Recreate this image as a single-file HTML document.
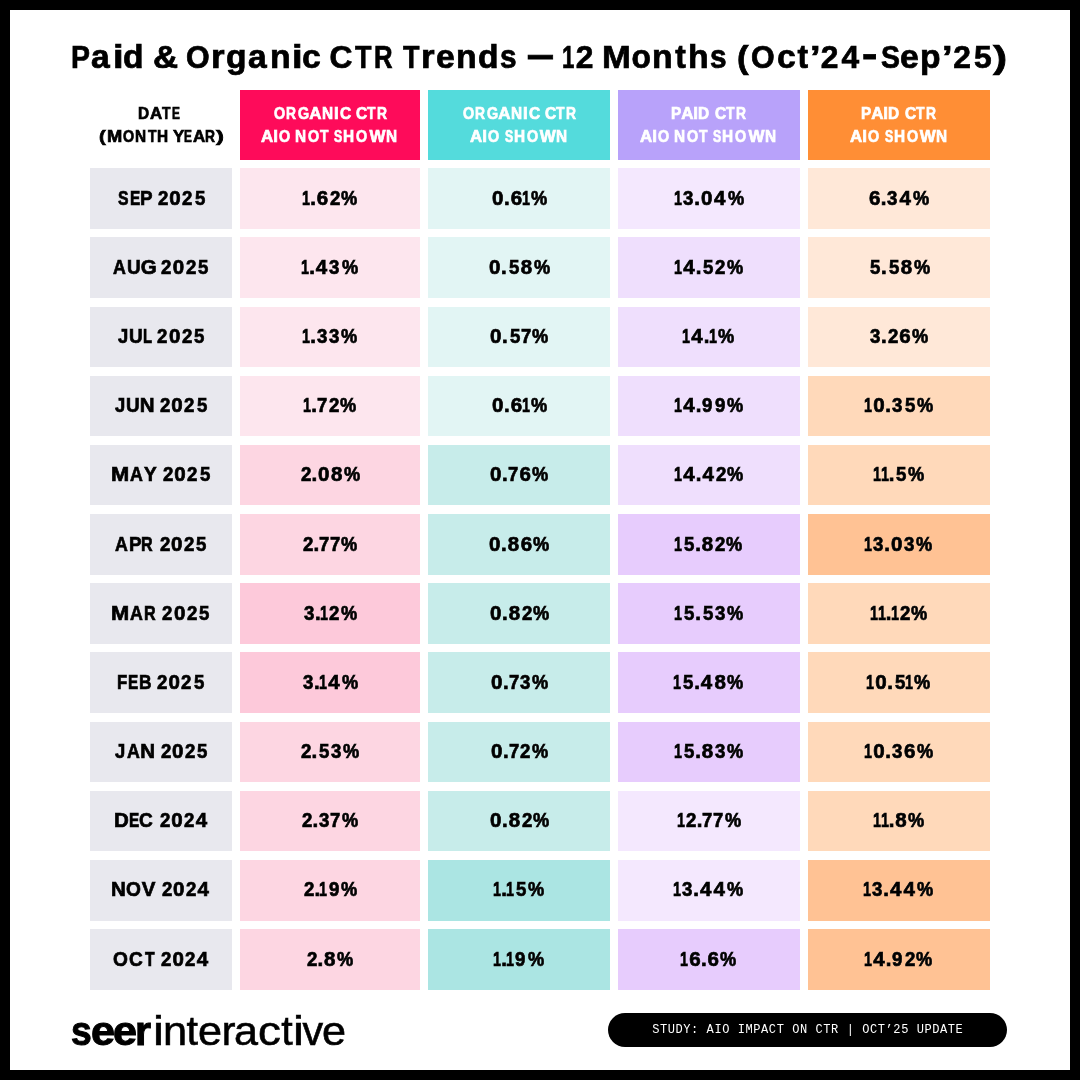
<!DOCTYPE html><html><head><meta charset="utf-8"><title>Paid &amp; Organic CTR Trends</title><style>
html,body{margin:0;padding:0}
body{width:1080px;height:1080px;background:#000;position:relative;overflow:hidden;font-family:"Liberation Sans",sans-serif}
.pg{position:absolute;left:10px;top:10px;width:1060px;height:1060px;background:#fff}
.b{position:absolute}
.ln{position:absolute;white-space:pre;will-change:transform}
.ln span{display:inline-block;transform-origin:0 0}
.ce,.tt,.dh{text-shadow:0 0 1.2px rgba(255,255,255,0.6)}
.tt span{transform-origin:0 31.01px}
.tt{font-weight:700;font-size:31.77px;line-height:40px;color:#000;-webkit-text-stroke:0.7px currentColor}
.hd{font-weight:700;font-size:16.91px;line-height:23px;color:#fff;-webkit-text-stroke:0.7px currentColor}
.ce{font-weight:700;font-size:20.5px;line-height:24px;color:#000;-webkit-text-stroke:0.7px currentColor}
.lb{font-weight:700;font-size:41.19px;line-height:50px;color:#000;-webkit-text-stroke:1.0px currentColor}
.lr{font-weight:400;font-size:41.19px;line-height:50px;color:#000;-webkit-text-stroke:0.6px currentColor}
.pill{position:absolute;left:608px;top:1013px;width:399px;height:34px;border-radius:17px;background:#000;color:#fff;font-family:"Liberation Mono",monospace;font-size:12px;letter-spacing:0.58px;text-indent:0.58px;line-height:34.5px;text-align:center;white-space:nowrap;will-change:transform}
</style></head><body><div class="pg"></div>
<div class="b" style="left:240px;top:90px;width:180px;height:70px;background:#fe0b5a"></div>
<div class="b" style="left:428px;top:90px;width:182px;height:70px;background:#54dbdc"></div>
<div class="b" style="left:618px;top:90px;width:182px;height:70px;background:#b8a2fa"></div>
<div class="b" style="left:808px;top:90px;width:182px;height:70px;background:#ff8e35"></div>
<div class="b" style="left:90px;top:168.30px;width:142px;height:60.5px;background:#e8e8ee"></div>
<div class="b" style="left:240px;top:168.30px;width:180px;height:60.5px;background:#fde6ee"></div>
<div class="b" style="left:428px;top:168.30px;width:182px;height:60.5px;background:#e2f5f4"></div>
<div class="b" style="left:618px;top:168.30px;width:182px;height:60.5px;background:#f4e8fe"></div>
<div class="b" style="left:808px;top:168.30px;width:182px;height:60.5px;background:#ffe8d8"></div>
<div class="b" style="left:90px;top:237.47px;width:142px;height:60.5px;background:#e8e8ee"></div>
<div class="b" style="left:240px;top:237.47px;width:180px;height:60.5px;background:#fde6ee"></div>
<div class="b" style="left:428px;top:237.47px;width:182px;height:60.5px;background:#e2f5f4"></div>
<div class="b" style="left:618px;top:237.47px;width:182px;height:60.5px;background:#efdffd"></div>
<div class="b" style="left:808px;top:237.47px;width:182px;height:60.5px;background:#ffe8d8"></div>
<div class="b" style="left:90px;top:306.64px;width:142px;height:60.5px;background:#e8e8ee"></div>
<div class="b" style="left:240px;top:306.64px;width:180px;height:60.5px;background:#fde6ee"></div>
<div class="b" style="left:428px;top:306.64px;width:182px;height:60.5px;background:#e2f5f4"></div>
<div class="b" style="left:618px;top:306.64px;width:182px;height:60.5px;background:#efdffd"></div>
<div class="b" style="left:808px;top:306.64px;width:182px;height:60.5px;background:#ffe8d8"></div>
<div class="b" style="left:90px;top:375.81px;width:142px;height:60.5px;background:#e8e8ee"></div>
<div class="b" style="left:240px;top:375.81px;width:180px;height:60.5px;background:#fde6ee"></div>
<div class="b" style="left:428px;top:375.81px;width:182px;height:60.5px;background:#e2f5f4"></div>
<div class="b" style="left:618px;top:375.81px;width:182px;height:60.5px;background:#efdffd"></div>
<div class="b" style="left:808px;top:375.81px;width:182px;height:60.5px;background:#ffd9ba"></div>
<div class="b" style="left:90px;top:444.98px;width:142px;height:60.5px;background:#e8e8ee"></div>
<div class="b" style="left:240px;top:444.98px;width:180px;height:60.5px;background:#fdd6e2"></div>
<div class="b" style="left:428px;top:444.98px;width:182px;height:60.5px;background:#c7ecea"></div>
<div class="b" style="left:618px;top:444.98px;width:182px;height:60.5px;background:#efdffd"></div>
<div class="b" style="left:808px;top:444.98px;width:182px;height:60.5px;background:#ffd9ba"></div>
<div class="b" style="left:90px;top:514.15px;width:142px;height:60.5px;background:#e8e8ee"></div>
<div class="b" style="left:240px;top:514.15px;width:180px;height:60.5px;background:#fdd6e2"></div>
<div class="b" style="left:428px;top:514.15px;width:182px;height:60.5px;background:#c7ecea"></div>
<div class="b" style="left:618px;top:514.15px;width:182px;height:60.5px;background:#e7ccfd"></div>
<div class="b" style="left:808px;top:514.15px;width:182px;height:60.5px;background:#ffc294"></div>
<div class="b" style="left:90px;top:583.32px;width:142px;height:60.5px;background:#e8e8ee"></div>
<div class="b" style="left:240px;top:583.32px;width:180px;height:60.5px;background:#fdc9da"></div>
<div class="b" style="left:428px;top:583.32px;width:182px;height:60.5px;background:#c7ecea"></div>
<div class="b" style="left:618px;top:583.32px;width:182px;height:60.5px;background:#e7ccfd"></div>
<div class="b" style="left:808px;top:583.32px;width:182px;height:60.5px;background:#ffd9ba"></div>
<div class="b" style="left:90px;top:652.49px;width:142px;height:60.5px;background:#e8e8ee"></div>
<div class="b" style="left:240px;top:652.49px;width:180px;height:60.5px;background:#fdc9da"></div>
<div class="b" style="left:428px;top:652.49px;width:182px;height:60.5px;background:#c7ecea"></div>
<div class="b" style="left:618px;top:652.49px;width:182px;height:60.5px;background:#e7ccfd"></div>
<div class="b" style="left:808px;top:652.49px;width:182px;height:60.5px;background:#ffd9ba"></div>
<div class="b" style="left:90px;top:721.66px;width:142px;height:60.5px;background:#e8e8ee"></div>
<div class="b" style="left:240px;top:721.66px;width:180px;height:60.5px;background:#fdd6e2"></div>
<div class="b" style="left:428px;top:721.66px;width:182px;height:60.5px;background:#c7ecea"></div>
<div class="b" style="left:618px;top:721.66px;width:182px;height:60.5px;background:#e7ccfd"></div>
<div class="b" style="left:808px;top:721.66px;width:182px;height:60.5px;background:#ffd9ba"></div>
<div class="b" style="left:90px;top:790.83px;width:142px;height:60.5px;background:#e8e8ee"></div>
<div class="b" style="left:240px;top:790.83px;width:180px;height:60.5px;background:#fdd6e2"></div>
<div class="b" style="left:428px;top:790.83px;width:182px;height:60.5px;background:#c7ecea"></div>
<div class="b" style="left:618px;top:790.83px;width:182px;height:60.5px;background:#f4e8fe"></div>
<div class="b" style="left:808px;top:790.83px;width:182px;height:60.5px;background:#ffd9ba"></div>
<div class="b" style="left:90px;top:860.00px;width:142px;height:60.5px;background:#e8e8ee"></div>
<div class="b" style="left:240px;top:860.00px;width:180px;height:60.5px;background:#fdd6e2"></div>
<div class="b" style="left:428px;top:860.00px;width:182px;height:60.5px;background:#abe5e3"></div>
<div class="b" style="left:618px;top:860.00px;width:182px;height:60.5px;background:#f4e8fe"></div>
<div class="b" style="left:808px;top:860.00px;width:182px;height:60.5px;background:#ffc294"></div>
<div class="b" style="left:90px;top:929.17px;width:142px;height:60.5px;background:#e8e8ee"></div>
<div class="b" style="left:240px;top:929.17px;width:180px;height:60.5px;background:#fdd6e2"></div>
<div class="b" style="left:428px;top:929.17px;width:182px;height:60.5px;background:#abe5e3"></div>
<div class="b" style="left:618px;top:929.17px;width:182px;height:60.5px;background:#e7ccfd"></div>
<div class="b" style="left:808px;top:929.17px;width:182px;height:60.5px;background:#ffc294"></div>
<div class="ln tt" style="left:70.94px;top:37.00px"><span style="width:20.09px;transform:scaleX(0.8947)">P</span><span style="width:21.72px;transform:scale(1.0588,1.0306)">a</span><span style="width:10.50px;transform:scale(1.2000,1.0306)">i</span><span style="width:18.00px;transform:scale(1.0588,1.0306)">d</span> <span style="margin-left:2.78px;width:22.00px;transform:scaleX(1.0952)">&amp;</span> <span style="margin-left:2.64px;width:25.13px;transform:scaleX(0.9565)">O</span><span style="width:14.42px;transform:scale(1.1000,1.0306)">r</span><span style="width:22.06px;transform:scale(1.0588,1.0306)">g</span><span style="width:22.00px;transform:scale(1.0588,1.0306)">a</span><span style="width:21.63px;transform:scale(1.0625,1.0306)">n</span><span style="width:10.49px;transform:scale(1.2000,1.0306)">i</span><span style="width:17.00px;transform:scale(1.0625,1.0306)">c</span> <span style="margin-left:1.58px;width:25.62px">C</span><span style="width:18.71px;transform:scaleX(0.8500)">T</span><span style="width:23.00px;transform:scaleX(0.8095)">R</span> <span style="margin-left:-2.41px;width:18.13px;transform:scaleX(0.8500)">T</span><span style="width:14.42px;transform:scale(1.1000,1.0306)">r</span><span style="width:20.05px;transform:scale(1.0625,1.0306)">e</span><span style="width:21.97px;transform:scale(1.0625,1.0306)">n</span><span style="width:22.18px;transform:scale(1.0588,1.0306)">d</span><span style="width:17.00px;transform:scale(0.9375,1.0306)">s</span> <span style="margin-left:2.00px;width:32.00px;transform-origin:0 0;transform:translateY(-8.00px) scale(0.7812,1.2500)">—</span> <span style="margin-left:-6.55px;width:13.81px;transform:scaleX(0.7000)">1</span><span style="width:17.00px">2</span> <span style="margin-left:0.28px;width:29.64px;transform:scaleX(1.0870)">M</span><span style="width:20.62px;transform:scale(1.0000,1.0306)">o</span><span style="width:23.03px;transform:scale(1.0625,1.0306)">n</span><span style="width:12.47px;transform:scale(1.0000,1.0306)">t</span><span style="width:22.09px;transform:scale(1.0625,1.0306)">h</span><span style="width:17.00px;transform:scale(0.9375,1.0306)">s</span> <span style="margin-left:1.90px;width:13.94px;transform:scaleX(1.1000)">(</span><span style="width:25.27px;transform:scaleX(0.9565)">O</span><span style="width:20.83px;transform:scale(1.0625,1.0306)">c</span><span style="width:12.19px;transform:scale(1.0000,1.0306)">t</span><span style="width:11.13px;transform:scaleX(1.2000)">’</span><span style="width:20.70px">2</span><span style="width:20.56px">4</span><span style="width:18.53px;transform-origin:0 0;transform:translateY(-9.25px) scale(1.4444,1.2500)">-</span><span style="width:19.91px;transform:scaleX(0.8947)">S</span><span style="width:20.05px;transform:scale(1.0625,1.0306)">e</span><span style="width:21.78px;transform:scale(1.0588,1.0306)">p</span><span style="width:11.13px;transform:scaleX(1.2000)">’</span><span style="width:20.70px">2</span><span style="width:19.16px">5</span><span style="width:9.00px;transform:scaleX(1.3333)">)</span></div>
<div class="ln hd" style="left:137.65px;top:102.00px;color:#000"><span style="width:11.91px;transform:scaleX(0.9091)">D</span><span style="width:12.17px">A</span><span style="width:10.07px;transform:scaleX(0.8182)">T</span><span style="width:11.00px;transform:scaleX(0.7000)">E</span></div>
<div class="ln hd" style="left:98.50px;top:125.00px;color:#000"><span style="width:7.99px;transform:scaleX(1.2000)">(</span><span style="width:16.24px;transform:scaleX(1.0833)">M</span><span style="width:12.08px;transform:scaleX(0.8462)">O</span><span style="width:12.33px;transform:scaleX(0.9091)">N</span><span style="width:9.86px;transform:scaleX(0.8182)">T</span><span style="width:12.00px;transform:scaleX(0.9091)">H</span> <span style="margin-left:-1.23px;width:11.38px">Y</span><span style="width:8.64px;transform:scaleX(0.7000)">E</span><span style="width:12.35px">A</span><span style="width:10.58px;transform:scaleX(0.8182)">R</span><span style="width:5.00px;transform:scaleX(1.4000)">)</span></div>
<div class="ln hd" style="left:273.50px;top:102.00px"><span style="width:12.17px;transform:scaleX(0.8462)">O</span><span style="width:11.58px;transform:scaleX(0.8182)">R</span><span style="width:11.58px;transform:scaleX(0.8462)">G</span><span style="width:12.26px">A</span><span style="width:12.33px;transform:scaleX(0.9091)">N</span><span style="width:5.88px">I</span><span style="width:12.00px;transform:scaleX(0.9167)">C</span> <span style="margin-left:-0.62px;width:11.58px;transform:scaleX(0.9167)">C</span><span style="width:9.95px;transform:scaleX(0.8182)">T</span><span style="width:12.00px;transform:scaleX(0.8182)">R</span></div>
<div class="ln hd" style="left:261.41px;top:125.00px"><span style="width:12.17px">A</span><span style="width:5.88px">I</span><span style="width:13.00px;transform:scaleX(0.8462)">O</span> <span style="margin-left:-2.12px;width:13.33px;transform:scaleX(0.9091)">N</span><span style="width:11.98px;transform:scaleX(0.8462)">O</span><span style="width:11.00px;transform:scaleX(0.8182)">T</span> <span style="margin-left:-1.43px;width:9.25px;transform:scaleX(0.7273)">S</span><span style="width:12.97px;transform:scaleX(0.9091)">H</span><span style="width:12.98px;transform:scaleX(0.8462)">O</span><span style="width:16.45px">W</span><span style="width:12.00px;transform:scaleX(0.9091)">N</span></div>
<div class="ln hd" style="left:462.50px;top:102.00px"><span style="width:12.17px;transform:scaleX(0.8462)">O</span><span style="width:11.58px;transform:scaleX(0.8182)">R</span><span style="width:11.58px;transform:scaleX(0.8462)">G</span><span style="width:12.26px">A</span><span style="width:12.33px;transform:scaleX(0.9091)">N</span><span style="width:5.88px">I</span><span style="width:12.00px;transform:scaleX(0.9167)">C</span> <span style="margin-left:-0.62px;width:11.58px;transform:scaleX(0.9167)">C</span><span style="width:9.95px;transform:scaleX(0.8182)">T</span><span style="width:12.00px;transform:scaleX(0.8182)">R</span></div>
<div class="ln hd" style="left:469.73px;top:125.00px"><span style="width:12.17px">A</span><span style="width:5.88px">I</span><span style="width:13.00px;transform:scaleX(0.8462)">O</span> <span style="margin-left:-1.21px;width:9.25px;transform:scaleX(0.7273)">S</span><span style="width:12.97px;transform:scaleX(0.9091)">H</span><span style="width:12.98px;transform:scaleX(0.8462)">O</span><span style="width:16.45px">W</span><span style="width:12.00px;transform:scaleX(0.9091)">N</span></div>
<div class="ln hd" style="left:671.12px;top:102.00px"><span style="width:10.20px;transform:scaleX(0.9000)">P</span><span style="width:12.17px">A</span><span style="width:4.97px">I</span><span style="width:12.00px;transform:scaleX(0.9091)">D</span> <span style="margin-left:-0.29px;width:11.58px;transform:scaleX(0.9167)">C</span><span style="width:9.95px;transform:scaleX(0.8182)">T</span><span style="width:12.00px;transform:scaleX(0.8182)">R</span></div>
<div class="ln hd" style="left:640.41px;top:125.00px"><span style="width:12.17px">A</span><span style="width:5.88px">I</span><span style="width:13.00px;transform:scaleX(0.8462)">O</span> <span style="margin-left:-2.12px;width:13.33px;transform:scaleX(0.9091)">N</span><span style="width:11.98px;transform:scaleX(0.8462)">O</span><span style="width:11.00px;transform:scaleX(0.8182)">T</span> <span style="margin-left:-1.43px;width:9.25px;transform:scaleX(0.7273)">S</span><span style="width:12.97px;transform:scaleX(0.9091)">H</span><span style="width:12.98px;transform:scaleX(0.8462)">O</span><span style="width:16.45px">W</span><span style="width:12.00px;transform:scaleX(0.9091)">N</span></div>
<div class="ln hd" style="left:861.12px;top:102.00px"><span style="width:10.20px;transform:scaleX(0.9000)">P</span><span style="width:12.17px">A</span><span style="width:4.97px">I</span><span style="width:12.00px;transform:scaleX(0.9091)">D</span> <span style="margin-left:-0.29px;width:11.58px;transform:scaleX(0.9167)">C</span><span style="width:9.95px;transform:scaleX(0.8182)">T</span><span style="width:12.00px;transform:scaleX(0.8182)">R</span></div>
<div class="ln hd" style="left:849.73px;top:125.00px"><span style="width:12.17px">A</span><span style="width:5.88px">I</span><span style="width:13.00px;transform:scaleX(0.8462)">O</span> <span style="margin-left:-1.21px;width:9.25px;transform:scaleX(0.7273)">S</span><span style="width:12.97px;transform:scaleX(0.9091)">H</span><span style="width:12.98px;transform:scaleX(0.8462)">O</span><span style="width:16.45px">W</span><span style="width:12.00px;transform:scaleX(0.9091)">N</span></div>
<div class="ln ce" style="left:117.61px;top:185.78px"><span style="width:11.56px;transform:scaleX(0.7692)">S</span><span style="width:10.66px;transform:scaleX(0.7500)">E</span><span style="width:13.00px;transform:scaleX(0.9167)">P</span> <span style="margin-left:-1.04px;width:11.42px;transform:scaleX(0.9091)">2</span><span style="width:13.05px">0</span><span style="width:12.42px;transform:scaleX(0.9091)">2</span><span style="width:11.00px;transform:scaleX(0.9091)">5</span></div>
<div class="ln ce" style="left:301.93px;top:185.78px"><span style="width:8.23px;transform:scaleX(0.7000)">1</span><span style="width:6.64px">.</span><span style="width:12.75px">6</span><span style="width:11.42px;transform:scaleX(0.9091)">2</span><span style="width:18.00px;transform:scaleX(0.8889)">%</span></div>
<div class="ln ce" style="left:491.81px;top:185.78px"><span style="width:12.05px">0</span><span style="width:6.64px">.</span><span style="width:11.05px">6</span><span style="width:9.23px;transform:scaleX(0.7000)">1</span><span style="width:18.00px;transform:scaleX(0.8889)">%</span></div>
<div class="ln ce" style="left:673.66px;top:185.78px"><span style="width:9.23px;transform:scaleX(0.7000)">1</span><span style="width:11.11px;transform:scaleX(0.9091)">3</span><span style="width:6.64px">.</span><span style="width:13.05px">0</span><span style="width:13.55px">4</span><span style="width:18.00px;transform:scaleX(0.8889)">%</span></div>
<div class="ln ce" style="left:869.27px;top:185.78px"><span style="width:11.75px">6</span><span style="width:6.64px">.</span><span style="width:12.11px;transform:scaleX(0.9091)">3</span><span style="width:13.55px">4</span><span style="width:18.00px;transform:scaleX(0.8889)">%</span></div>
<div class="ln ce" style="left:113.38px;top:254.96px"><span style="width:13.83px;transform:scaleX(0.8667)">A</span><span style="width:14.03px;transform:scaleX(0.9231)">U</span><span style="width:15.00px">G</span> <span style="margin-left:-0.20px;width:11.42px;transform:scaleX(0.9091)">2</span><span style="width:13.05px">0</span><span style="width:12.42px;transform:scaleX(0.9091)">2</span><span style="width:11.00px;transform:scaleX(0.9091)">5</span></div>
<div class="ln ce" style="left:301.18px;top:254.96px"><span style="width:8.23px;transform:scaleX(0.7000)">1</span><span style="width:6.64px">.</span><span style="width:13.55px">4</span><span style="width:12.11px;transform:scaleX(0.9091)">3</span><span style="width:18.00px;transform:scaleX(0.8889)">%</span></div>
<div class="ln ce" style="left:488.97px;top:254.96px"><span style="width:12.05px">0</span><span style="width:7.64px">.</span><span style="width:12.00px;transform:scaleX(0.9091)">5</span><span style="width:12.97px">8</span><span style="width:18.00px;transform:scaleX(0.8889)">%</span></div>
<div class="ln ce" style="left:674.02px;top:254.96px"><span style="width:9.23px;transform:scaleX(0.7000)">1</span><span style="width:12.55px">4</span><span style="width:7.64px">.</span><span style="width:12.00px;transform:scaleX(0.9091)">5</span><span style="width:11.42px;transform:scaleX(0.9091)">2</span><span style="width:18.00px;transform:scaleX(0.8889)">%</span></div>
<div class="ln ce" style="left:869.98px;top:254.96px"><span style="width:11.00px;transform:scaleX(0.9091)">5</span><span style="width:7.64px">.</span><span style="width:12.00px;transform:scaleX(0.9091)">5</span><span style="width:12.97px">8</span><span style="width:18.00px;transform:scaleX(0.8889)">%</span></div>
<div class="ln ce" style="left:117.81px;top:324.11px"><span style="width:10.64px;transform:scaleX(0.9000)">J</span><span style="width:14.31px;transform:scaleX(0.9231)">U</span><span style="width:12.00px;transform:scaleX(0.7273)">L</span> <span style="margin-left:-3.17px;width:11.42px;transform:scaleX(0.9091)">2</span><span style="width:13.05px">0</span><span style="width:12.42px;transform:scaleX(0.9091)">2</span><span style="width:11.00px;transform:scaleX(0.9091)">5</span></div>
<div class="ln ce" style="left:301.89px;top:324.11px"><span style="width:8.23px;transform:scaleX(0.7000)">1</span><span style="width:6.64px">.</span><span style="width:12.11px;transform:scaleX(0.9091)">3</span><span style="width:12.11px;transform:scaleX(0.9091)">3</span><span style="width:18.00px;transform:scaleX(0.8889)">%</span></div>
<div class="ln ce" style="left:490.09px;top:324.11px"><span style="width:12.05px">0</span><span style="width:7.64px">.</span><span style="width:11.10px;transform:scaleX(0.9091)">5</span><span style="width:11.60px;transform:scaleX(0.9000)">7</span><span style="width:18.00px;transform:scaleX(0.8889)">%</span></div>
<div class="ln ce" style="left:682.47px;top:324.11px"><span style="width:9.23px;transform:scaleX(0.7000)">1</span><span style="width:12.55px">4</span><span style="width:4.94px">.</span><span style="width:9.23px;transform:scaleX(0.7000)">1</span><span style="width:18.00px;transform:scaleX(0.8889)">%</span></div>
<div class="ln ce" style="left:870.33px;top:324.11px"><span style="width:11.11px;transform:scaleX(0.9091)">3</span><span style="width:6.64px">.</span><span style="width:11.42px;transform:scaleX(0.9091)">2</span><span style="width:12.75px">6</span><span style="width:18.00px;transform:scaleX(0.8889)">%</span></div>
<div class="ln ce" style="left:115.06px;top:393.28px"><span style="width:10.64px;transform:scaleX(0.9000)">J</span><span style="width:14.03px;transform:scaleX(0.9231)">U</span><span style="width:14.00px">N</span> <span style="margin-left:0.60px;width:11.42px;transform:scaleX(0.9091)">2</span><span style="width:13.05px">0</span><span style="width:12.42px;transform:scaleX(0.9091)">2</span><span style="width:11.00px;transform:scaleX(0.9091)">5</span></div>
<div class="ln ce" style="left:302.94px;top:393.28px"><span style="width:8.23px;transform:scaleX(0.7000)">1</span><span style="width:5.74px">.</span><span style="width:11.60px;transform:scaleX(0.9000)">7</span><span style="width:11.42px;transform:scaleX(0.9091)">2</span><span style="width:18.00px;transform:scaleX(0.8889)">%</span></div>
<div class="ln ce" style="left:491.81px;top:393.28px"><span style="width:12.05px">0</span><span style="width:6.64px">.</span><span style="width:11.05px">6</span><span style="width:9.23px;transform:scaleX(0.7000)">1</span><span style="width:18.00px;transform:scaleX(0.8889)">%</span></div>
<div class="ln ce" style="left:673.92px;top:393.28px"><span style="width:9.23px;transform:scaleX(0.7000)">1</span><span style="width:12.55px">4</span><span style="width:6.64px">.</span><span style="width:12.31px;transform:scaleX(0.9091)">9</span><span style="width:12.31px;transform:scaleX(0.9091)">9</span><span style="width:18.00px;transform:scaleX(0.8889)">%</span></div>
<div class="ln ce" style="left:863.92px;top:393.28px"><span style="width:9.23px;transform:scaleX(0.7000)">1</span><span style="width:12.05px">0</span><span style="width:6.64px">.</span><span style="width:13.11px;transform:scaleX(0.9091)">3</span><span style="width:12.00px;transform:scaleX(0.9091)">5</span><span style="width:18.00px;transform:scaleX(0.8889)">%</span></div>
<div class="ln ce" style="left:111.09px;top:462.46px"><span style="width:19.44px;transform:scaleX(1.0667)">M</span><span style="width:13.75px;transform:scaleX(0.8667)">A</span><span style="width:14.00px;transform:scaleX(0.9286)">Y</span> <span style="margin-left:-1.02px;width:11.42px;transform:scaleX(0.9091)">2</span><span style="width:13.05px">0</span><span style="width:12.42px;transform:scaleX(0.9091)">2</span><span style="width:11.00px;transform:scaleX(0.9091)">5</span></div>
<div class="ln ce" style="left:300.75px;top:462.46px"><span style="width:10.42px;transform:scaleX(0.9091)">2</span><span style="width:6.64px">.</span><span style="width:13.05px">0</span><span style="width:12.97px">8</span><span style="width:18.00px;transform:scaleX(0.8889)">%</span></div>
<div class="ln ce" style="left:490.22px;top:462.46px"><span style="width:12.05px">0</span><span style="width:5.74px">.</span><span style="width:11.60px;transform:scaleX(0.9000)">7</span><span style="width:12.75px">6</span><span style="width:18.00px;transform:scaleX(0.8889)">%</span></div>
<div class="ln ce" style="left:673.75px;top:462.46px"><span style="width:9.23px;transform:scaleX(0.7000)">1</span><span style="width:12.55px">4</span><span style="width:6.64px">.</span><span style="width:13.55px">4</span><span style="width:11.42px;transform:scaleX(0.9091)">2</span><span style="width:18.00px;transform:scaleX(0.8889)">%</span></div>
<div class="ln ce" style="left:872.74px;top:462.46px"><span style="width:7.53px;transform:scaleX(0.7000)">1</span><span style="width:8.23px;transform:scaleX(0.7000)">1</span><span style="width:7.64px">.</span><span style="width:12.00px;transform:scaleX(0.9091)">5</span><span style="width:18.00px;transform:scaleX(0.8889)">%</span></div>
<div class="ln ce" style="left:115.28px;top:531.63px"><span style="width:13.83px;transform:scaleX(0.8667)">A</span><span style="width:12.62px;transform:scaleX(0.9167)">P</span><span style="width:15.00px;transform:scaleX(0.7857)">R</span> <span style="margin-left:-2.61px;width:11.42px;transform:scaleX(0.9091)">2</span><span style="width:13.05px">0</span><span style="width:12.42px;transform:scaleX(0.9091)">2</span><span style="width:11.00px;transform:scaleX(0.9091)">5</span></div>
<div class="ln ce" style="left:303.06px;top:531.63px"><span style="width:10.42px;transform:scaleX(0.9091)">2</span><span style="width:5.74px">.</span><span style="width:10.70px;transform:scaleX(0.9000)">7</span><span style="width:11.60px;transform:scaleX(0.9000)">7</span><span style="width:18.00px;transform:scaleX(0.8889)">%</span></div>
<div class="ln ce" style="left:489.09px;top:531.63px"><span style="width:12.05px">0</span><span style="width:6.64px">.</span><span style="width:12.97px">8</span><span style="width:12.75px">6</span><span style="width:18.00px;transform:scaleX(0.8889)">%</span></div>
<div class="ln ce" style="left:674.32px;top:531.63px"><span style="width:10.23px;transform:scaleX(0.7000)">1</span><span style="width:11.00px;transform:scaleX(0.9091)">5</span><span style="width:6.64px">.</span><span style="width:12.97px">8</span><span style="width:11.42px;transform:scaleX(0.9091)">2</span><span style="width:18.00px;transform:scaleX(0.8889)">%</span></div>
<div class="ln ce" style="left:864.38px;top:531.63px"><span style="width:9.23px;transform:scaleX(0.7000)">1</span><span style="width:11.11px;transform:scaleX(0.9091)">3</span><span style="width:6.64px">.</span><span style="width:13.05px">0</span><span style="width:12.11px;transform:scaleX(0.9091)">3</span><span style="width:18.00px;transform:scaleX(0.8889)">%</span></div>
<div class="ln ce" style="left:111.28px;top:600.80px"><span style="width:19.44px;transform:scaleX(1.0667)">M</span><span style="width:13.96px;transform:scaleX(0.8667)">A</span><span style="width:15.00px;transform:scaleX(0.7857)">R</span> <span style="margin-left:-2.61px;width:11.42px;transform:scaleX(0.9091)">2</span><span style="width:13.05px">0</span><span style="width:12.42px;transform:scaleX(0.9091)">2</span><span style="width:11.00px;transform:scaleX(0.9091)">5</span></div>
<div class="ln ce" style="left:303.94px;top:600.80px"><span style="width:11.11px;transform:scaleX(0.9091)">3</span><span style="width:4.94px">.</span><span style="width:9.23px;transform:scaleX(0.7000)">1</span><span style="width:11.42px;transform:scaleX(0.9091)">2</span><span style="width:18.00px;transform:scaleX(0.8889)">%</span></div>
<div class="ln ce" style="left:489.75px;top:600.80px"><span style="width:12.05px">0</span><span style="width:6.64px">.</span><span style="width:12.97px">8</span><span style="width:11.42px;transform:scaleX(0.9091)">2</span><span style="width:18.00px;transform:scaleX(0.8889)">%</span></div>
<div class="ln ce" style="left:673.96px;top:600.80px"><span style="width:10.23px;transform:scaleX(0.7000)">1</span><span style="width:11.00px;transform:scaleX(0.9091)">5</span><span style="width:7.64px">.</span><span style="width:12.00px;transform:scaleX(0.9091)">5</span><span style="width:12.11px;transform:scaleX(0.9091)">3</span><span style="width:18.00px;transform:scaleX(0.8889)">%</span></div>
<div class="ln ce" style="left:869.77px;top:600.80px"><span style="width:7.53px;transform:scaleX(0.7000)">1</span><span style="width:8.23px;transform:scaleX(0.7000)">1</span><span style="width:4.94px">.</span><span style="width:9.23px;transform:scaleX(0.7000)">1</span><span style="width:11.42px;transform:scaleX(0.9091)">2</span><span style="width:18.00px;transform:scaleX(0.8889)">%</span></div>
<div class="ln ce" style="left:117.12px;top:669.97px"><span style="width:11.02px;transform:scaleX(0.8182)">F</span><span style="width:10.73px;transform:scaleX(0.7500)">E</span><span style="width:14.00px;transform:scaleX(0.8462)">B</span> <span style="margin-left:-1.41px;width:11.42px;transform:scaleX(0.9091)">2</span><span style="width:13.05px">0</span><span style="width:12.42px;transform:scaleX(0.9091)">2</span><span style="width:11.00px;transform:scaleX(0.9091)">5</span></div>
<div class="ln ce" style="left:302.88px;top:669.97px"><span style="width:11.11px;transform:scaleX(0.9091)">3</span><span style="width:4.94px">.</span><span style="width:9.23px;transform:scaleX(0.7000)">1</span><span style="width:13.55px">4</span><span style="width:18.00px;transform:scaleX(0.8889)">%</span></div>
<div class="ln ce" style="left:490.55px;top:669.97px"><span style="width:12.05px">0</span><span style="width:5.74px">.</span><span style="width:11.60px;transform:scaleX(0.9000)">7</span><span style="width:12.11px;transform:scaleX(0.9091)">3</span><span style="width:18.00px;transform:scaleX(0.8889)">%</span></div>
<div class="ln ce" style="left:673.25px;top:669.97px"><span style="width:10.23px;transform:scaleX(0.7000)">1</span><span style="width:11.00px;transform:scaleX(0.9091)">5</span><span style="width:6.64px">.</span><span style="width:13.55px">4</span><span style="width:12.97px">8</span><span style="width:18.00px;transform:scaleX(0.8889)">%</span></div>
<div class="ln ce" style="left:866.22px;top:669.97px"><span style="width:9.23px;transform:scaleX(0.7000)">1</span><span style="width:12.05px">0</span><span style="width:7.64px">.</span><span style="width:10.30px;transform:scaleX(0.9091)">5</span><span style="width:9.23px;transform:scaleX(0.7000)">1</span><span style="width:18.00px;transform:scaleX(0.8889)">%</span></div>
<div class="ln ce" style="left:114.75px;top:739.14px"><span style="width:11.56px;transform:scaleX(0.9000)">J</span><span style="width:13.75px;transform:scaleX(0.8667)">A</span><span style="width:14.00px">N</span> <span style="margin-left:0.60px;width:11.42px;transform:scaleX(0.9091)">2</span><span style="width:13.05px">0</span><span style="width:12.42px;transform:scaleX(0.9091)">2</span><span style="width:11.00px;transform:scaleX(0.9091)">5</span></div>
<div class="ln ce" style="left:301.20px;top:739.14px"><span style="width:10.42px;transform:scaleX(0.9091)">2</span><span style="width:7.64px">.</span><span style="width:12.00px;transform:scaleX(0.9091)">5</span><span style="width:12.11px;transform:scaleX(0.9091)">3</span><span style="width:18.00px;transform:scaleX(0.8889)">%</span></div>
<div class="ln ce" style="left:490.89px;top:739.14px"><span style="width:12.05px">0</span><span style="width:5.74px">.</span><span style="width:11.60px;transform:scaleX(0.9000)">7</span><span style="width:11.42px;transform:scaleX(0.9091)">2</span><span style="width:18.00px;transform:scaleX(0.8889)">%</span></div>
<div class="ln ce" style="left:673.97px;top:739.14px"><span style="width:10.23px;transform:scaleX(0.7000)">1</span><span style="width:11.00px;transform:scaleX(0.9091)">5</span><span style="width:6.64px">.</span><span style="width:12.97px">8</span><span style="width:12.11px;transform:scaleX(0.9091)">3</span><span style="width:18.00px;transform:scaleX(0.8889)">%</span></div>
<div class="ln ce" style="left:864.05px;top:739.14px"><span style="width:9.23px;transform:scaleX(0.7000)">1</span><span style="width:12.05px">0</span><span style="width:6.64px">.</span><span style="width:12.11px;transform:scaleX(0.9091)">3</span><span style="width:12.75px">6</span><span style="width:18.00px;transform:scaleX(0.8889)">%</span></div>
<div class="ln ce" style="left:113.84px;top:808.32px"><span style="width:14.80px">D</span><span style="width:10.65px;transform:scaleX(0.7500)">E</span><span style="width:15.00px;transform:scaleX(0.9286)">C</span> <span style="margin-left:-0.27px;width:11.42px;transform:scaleX(0.9091)">2</span><span style="width:13.05px">0</span><span style="width:11.42px;transform:scaleX(0.9091)">2</span><span style="width:12.00px">4</span></div>
<div class="ln ce" style="left:302.36px;top:808.32px"><span style="width:10.42px;transform:scaleX(0.9091)">2</span><span style="width:6.64px">.</span><span style="width:11.21px;transform:scaleX(0.9091)">3</span><span style="width:11.60px;transform:scaleX(0.9000)">7</span><span style="width:18.00px;transform:scaleX(0.8889)">%</span></div>
<div class="ln ce" style="left:489.75px;top:808.32px"><span style="width:12.05px">0</span><span style="width:6.64px">.</span><span style="width:12.97px">8</span><span style="width:11.42px;transform:scaleX(0.9091)">2</span><span style="width:18.00px;transform:scaleX(0.8889)">%</span></div>
<div class="ln ce" style="left:676.60px;top:808.32px"><span style="width:9.23px;transform:scaleX(0.7000)">1</span><span style="width:10.42px;transform:scaleX(0.9091)">2</span><span style="width:5.74px">.</span><span style="width:10.70px;transform:scaleX(0.9000)">7</span><span style="width:11.60px;transform:scaleX(0.9000)">7</span><span style="width:18.00px;transform:scaleX(0.8889)">%</span></div>
<div class="ln ce" style="left:872.75px;top:808.32px"><span style="width:7.53px;transform:scaleX(0.7000)">1</span><span style="width:8.23px;transform:scaleX(0.7000)">1</span><span style="width:6.64px">.</span><span style="width:12.97px">8</span><span style="width:18.00px;transform:scaleX(0.8889)">%</span></div>
<div class="ln ce" style="left:111.45px;top:877.49px"><span style="width:15.11px">N</span><span style="width:15.67px;transform:scaleX(0.9333)">O</span><span style="width:14.00px">V</span> <span style="margin-left:0.16px;width:11.42px;transform:scaleX(0.9091)">2</span><span style="width:13.05px">0</span><span style="width:11.42px;transform:scaleX(0.9091)">2</span><span style="width:12.00px">4</span></div>
<div class="ln ce" style="left:303.84px;top:877.49px"><span style="width:10.42px;transform:scaleX(0.9091)">2</span><span style="width:4.94px">.</span><span style="width:9.23px;transform:scaleX(0.7000)">1</span><span style="width:12.31px;transform:scaleX(0.9091)">9</span><span style="width:18.00px;transform:scaleX(0.8889)">%</span></div>
<div class="ln ce" style="left:492.74px;top:877.49px"><span style="width:8.23px;transform:scaleX(0.7000)">1</span><span style="width:4.94px">.</span><span style="width:10.23px;transform:scaleX(0.7000)">1</span><span style="width:12.00px;transform:scaleX(0.9091)">5</span><span style="width:18.00px;transform:scaleX(0.8889)">%</span></div>
<div class="ln ce" style="left:673.41px;top:877.49px"><span style="width:9.23px;transform:scaleX(0.7000)">1</span><span style="width:11.11px;transform:scaleX(0.9091)">3</span><span style="width:6.64px">.</span><span style="width:13.55px">4</span><span style="width:13.55px">4</span><span style="width:18.00px;transform:scaleX(0.8889)">%</span></div>
<div class="ln ce" style="left:863.41px;top:877.49px"><span style="width:9.23px;transform:scaleX(0.7000)">1</span><span style="width:11.11px;transform:scaleX(0.9091)">3</span><span style="width:6.64px">.</span><span style="width:13.55px">4</span><span style="width:13.55px">4</span><span style="width:18.00px;transform:scaleX(0.8889)">%</span></div>
<div class="ln ce" style="left:112.82px;top:946.64px"><span style="width:15.74px;transform:scaleX(0.9333)">O</span><span style="width:16.18px;transform:scaleX(0.9286)">C</span><span style="width:13.00px;transform:scaleX(0.7692)">T</span> <span style="margin-left:-2.62px;width:11.42px;transform:scaleX(0.9091)">2</span><span style="width:13.05px">0</span><span style="width:11.42px;transform:scaleX(0.9091)">2</span><span style="width:12.00px">4</span></div>
<div class="ln ce" style="left:307.28px;top:946.64px"><span style="width:10.42px;transform:scaleX(0.9091)">2</span><span style="width:6.64px">.</span><span style="width:12.97px">8</span><span style="width:18.00px;transform:scaleX(0.8889)">%</span></div>
<div class="ln ce" style="left:493.08px;top:946.64px"><span style="width:8.23px;transform:scaleX(0.7000)">1</span><span style="width:4.94px">.</span><span style="width:9.23px;transform:scaleX(0.7000)">1</span><span style="width:12.31px;transform:scaleX(0.9091)">9</span><span style="width:18.00px;transform:scaleX(0.8889)">%</span></div>
<div class="ln ce" style="left:680.25px;top:946.64px"><span style="width:9.23px;transform:scaleX(0.7000)">1</span><span style="width:11.75px">6</span><span style="width:6.64px">.</span><span style="width:12.75px">6</span><span style="width:18.00px;transform:scaleX(0.8889)">%</span></div>
<div class="ln ce" style="left:864.36px;top:946.64px"><span style="width:9.23px;transform:scaleX(0.7000)">1</span><span style="width:12.55px">4</span><span style="width:6.64px">.</span><span style="width:12.31px;transform:scaleX(0.9091)">9</span><span style="width:11.42px;transform:scaleX(0.9091)">2</span><span style="width:18.00px;transform:scaleX(0.8889)">%</span></div>
<div class="ln lb" style="left:71.10px;top:1005.50px"><span style="width:19.73px;transform:scaleX(0.9048)">s</span><span style="width:22.12px;transform:scaleX(1.0476)">e</span><span style="width:22.17px;transform:scaleX(1.0476)">e</span><span style="width:16.00px">r</span></div>
<div class="ln lr" style="left:153.40px;top:1005.50px"><span style="width:9.87px;transform:scaleX(1.2000)">i</span><span style="width:23.70px;transform:scaleX(1.0526)">n</span><span style="width:11.73px">t</span><span style="width:23.39px;transform:scaleX(1.0476)">e</span><span style="width:12.20px">r</span><span style="width:24.66px;transform:scaleX(1.0455)">a</span><span style="width:22.78px;transform:scaleX(1.1053)">c</span><span style="width:11.38px">t</span><span style="width:9.98px;transform:scaleX(1.2000)">i</span><span style="width:19.69px">v</span><span style="width:22.00px;transform:scaleX(1.0476)">e</span></div>
<div class="pill">STUDY: AIO IMPACT ON CTR | OCT’25 UPDATE</div>
</body></html>
